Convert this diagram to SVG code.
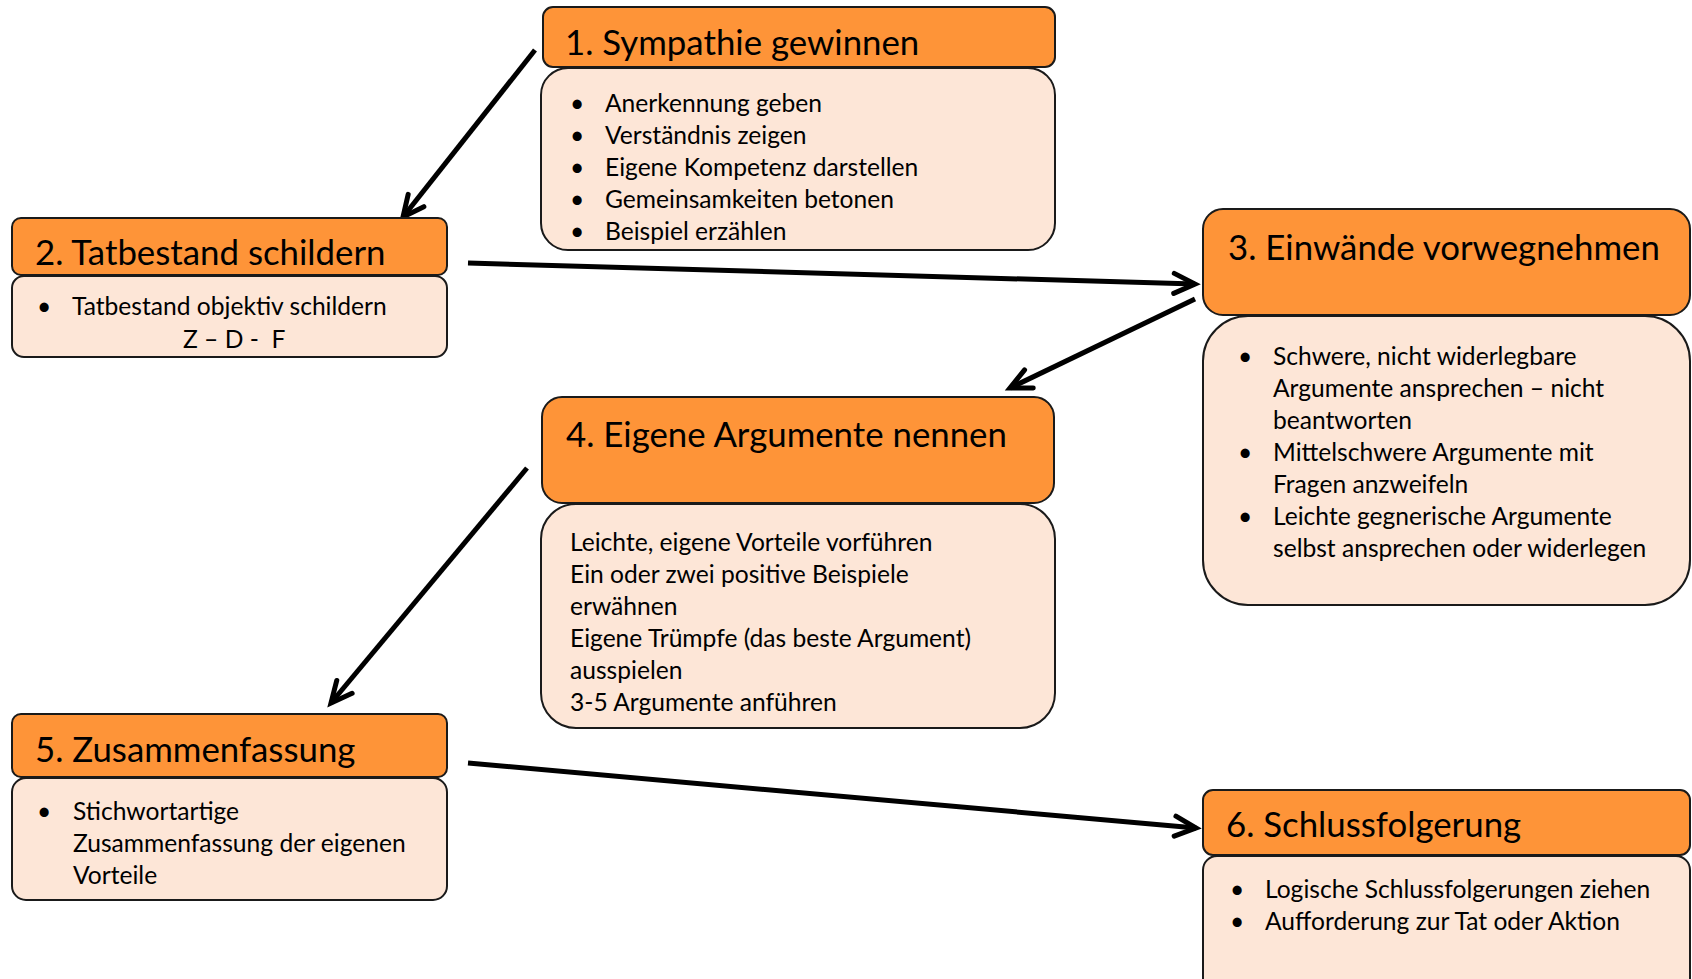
<svg xmlns="http://www.w3.org/2000/svg" width="1692" height="979" viewBox="0 0 1692 979">
<style>
.hd{fill:#FE9438;stroke:#1a1a1a;stroke-width:2}
.bd{fill:#FDE6D7;stroke:#1a1a1a;stroke-width:2}
.t{font-family:Lato,"Liberation Sans",sans-serif;font-size:34.8px;fill:#000}
.b{font-family:Lato,"Liberation Sans",sans-serif;font-size:24.6px;fill:#000;white-space:pre}
.c{fill:none;stroke:#000;stroke-width:5}
</style>
<defs>
<marker id="ah" markerUnits="userSpaceOnUse" markerWidth="40" markerHeight="40" viewBox="-30 -20 40 40" refX="0" refY="0" orient="auto" overflow="visible">
<path d="M-21,-10 L0,0 L-21,10" fill="none" stroke="#000" stroke-width="5" stroke-linecap="round"/>
</marker>
</defs>
<rect width="1692" height="979" fill="#fff"/>
<g id="connectors">
<line class="c" x1="535" y1="50" x2="403" y2="217" marker-end="url(#ah)"/>
<line class="c" x1="468" y1="263" x2="1195" y2="284" marker-end="url(#ah)"/>
<line class="c" x1="1195" y1="299" x2="1010" y2="388" marker-end="url(#ah)"/>
<line class="c" x1="527" y1="468" x2="331" y2="703" marker-end="url(#ah)"/>
<line class="c" x1="468" y1="763" x2="1196" y2="828" marker-end="url(#ah)"/>
</g>
<g id="node1">
<rect class="hd" x="543" y="7" width="512" height="60" rx="10"/>
<rect class="bd" x="541" y="68" width="514" height="182" rx="27"/>
<text class="t" x="565" y="55">1. Sympathie gewinnen</text>
<text class="b" x="570" y="112">•</text><text class="b" x="605" y="112">Anerkennung geben</text>
<text class="b" x="570" y="144">•</text><text class="b" x="605" y="144">Verständnis zeigen</text>
<text class="b" x="570" y="176">•</text><text class="b" x="605" y="176">Eigene Kompetenz darstellen</text>
<text class="b" x="570" y="208">•</text><text class="b" x="605" y="208">Gemeinsamkeiten betonen</text>
<text class="b" x="570" y="240">•</text><text class="b" x="605" y="240">Beispiel erzählen</text>
</g>
<g id="node2">
<rect class="hd" x="12" y="218" width="435" height="57" rx="9"/>
<rect class="bd" x="12" y="276" width="435" height="81" rx="12"/>
<text class="t" x="35" y="265">2. Tatbestand schildern</text>
<text class="b" x="37" y="315">•</text><text class="b" x="72" y="315">Tatbestand objektiv schildern</text>
<text class="b" x="183" y="348">Z – D -  F</text>
</g>
<g id="node3">
<rect class="hd" x="1203" y="209" width="487" height="106" rx="20"/>
<rect class="bd" x="1203" y="316" width="487" height="289" rx="45"/>
<text class="t" x="1228" y="260">3. Einwände vorwegnehmen</text>
<text class="b" x="1238" y="365">•</text><text class="b" x="1273" y="365">Schwere, nicht widerlegbare</text>
<text class="b" x="1273" y="397">Argumente ansprechen – nicht</text>
<text class="b" x="1273" y="429">beantworten</text>
<text class="b" x="1238" y="461">•</text><text class="b" x="1273" y="461">Mittelschwere Argumente mit</text>
<text class="b" x="1273" y="493">Fragen anzweifeln</text>
<text class="b" x="1238" y="525">•</text><text class="b" x="1273" y="525">Leichte gegnerische Argumente</text>
<text class="b" x="1273" y="557">selbst ansprechen oder widerlegen</text>
</g>
<g id="node4">
<rect class="hd" x="542" y="397" width="512" height="106" rx="20"/>
<rect class="bd" x="541" y="504" width="514" height="224" rx="35"/>
<text class="t" x="566" y="447">4. Eigene Argumente nennen</text>
<text class="b" x="570" y="551">Leichte, eigene Vorteile vorführen</text>
<text class="b" x="570" y="583">Ein oder zwei positive Beispiele</text>
<text class="b" x="570" y="615">erwähnen</text>
<text class="b" x="570" y="647">Eigene Trümpfe (das beste Argument)</text>
<text class="b" x="570" y="679">ausspielen</text>
<text class="b" x="570" y="711">3-5 Argumente anführen</text>
</g>
<g id="node5">
<rect class="hd" x="12" y="714" width="435" height="63" rx="9"/>
<rect class="bd" x="12" y="778" width="435" height="122" rx="14"/>
<text class="t" x="35" y="762">5. Zusammenfassung</text>
<text class="b" x="37" y="820">•</text><text class="b" x="73" y="820">Stichwortartige</text>
<text class="b" x="73" y="852">Zusammenfassung der eigenen</text>
<text class="b" x="73" y="884">Vorteile</text>
</g>
<g id="node6">
<rect class="hd" x="1203" y="790" width="487" height="65" rx="10"/>
<rect class="bd" x="1203" y="856" width="487" height="140" rx="14"/>
<text class="t" x="1226" y="837">6. Schlussfolgerung</text>
<text class="b" x="1230" y="898">•</text><text class="b" x="1265" y="898">Logische Schlussfolgerungen ziehen</text>
<text class="b" x="1230" y="930">•</text><text class="b" x="1265" y="930">Aufforderung zur Tat oder Aktion</text>
</g>
</svg>
